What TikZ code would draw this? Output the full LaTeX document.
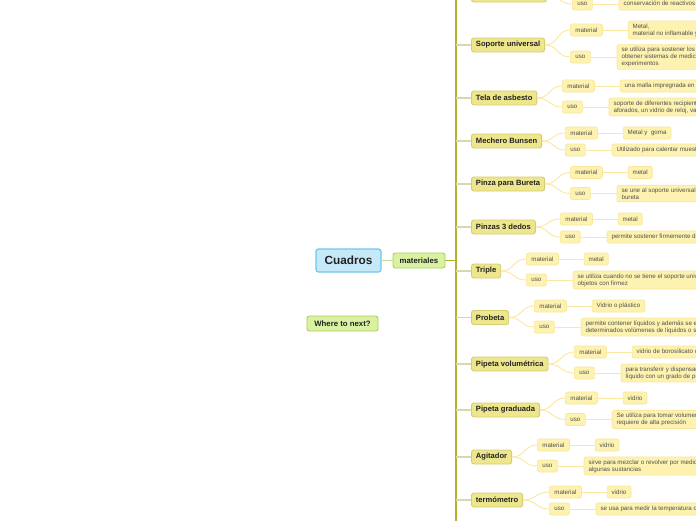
\documentclass[tikz,border=0pt]{standalone}
\usepackage{fontspec}
\setmainfont{Liberation Sans}
\definecolor{barc}{HTML}{B4B42C}
\definecolor{trunkc}{HTML}{D9D8A8}
\definecolor{catfill}{HTML}{EDE68C}
\definecolor{catdraw}{HTML}{D5CD72}
\definecolor{subfill}{HTML}{FDF2AF}
\definecolor{subdraw}{HTML}{FAE79C}
\definecolor{sublinec}{HTML}{FBE7A0}
\definecolor{rootfill}{HTML}{C6E9FA}
\definecolor{rootdraw}{HTML}{72C5EB}
\definecolor{grfill}{HTML}{DAF1A2}
\definecolor{grdraw}{HTML}{AACF5A}
\definecolor{grline}{HTML}{C3E090}
\definecolor{txtc}{HTML}{222222}
\definecolor{subtxt}{HTML}{505050}
\tikzset{
  cat/.style={draw=catdraw, fill=catfill, line width=0.9pt, rounded corners=2.5pt,
    font=\fontsize{7.6}{9}\selectfont\bfseries, text=txtc, inner xsep=4.5pt, inner ysep=0pt,
    minimum height=14pt},
  sub/.style={draw=subdraw, fill=subfill, line width=0.7pt, rounded corners=2pt,
    font=\fontsize{6.2}{6.9}\selectfont, text=subtxt, inner xsep=5pt, inner ysep=0pt,
    minimum height=12pt},
  leaf/.style={sub, align=left, inner xsep=4.5pt, inner ysep=2.6pt},
  trunkline/.style={draw=trunkc, line width=1.4pt},
  subline/.style={draw=sublinec, line width=0.9pt},
}
\newcommand\catbranch[8]{%
  \node[cat, anchor=west] (#1) at (471,#2) {#3};
  \node[sub, anchor=west] (#1m) at (#4,#5) {material};
  \node[sub, anchor=west] (#1u) at (#4,#7) {uso};
  \node[leaf, anchor=west] (#1ml) at ([xshift=25]#1m.east) {#6};
  \node[leaf, anchor=west] (#1ul) at ([xshift=26]#1u.east) {#8};
  \draw[trunkline] (bartop |- #1.west) -- (#1.west);
  \draw[subline] (#1.east) .. controls +(13,0) and +(-13,0) .. (#1m.west);
  \draw[subline] (#1.east) .. controls +(13,0) and +(-13,0) .. (#1u.west);
  \draw[subline] (#1m.east) -- (#1ml.west);
  \draw[subline] (#1u.east) -- (#1ul.west);
}
\begin{document}
\begin{tikzpicture}[x=1pt, y=-1pt]
\useasboundingbox (0,0) rectangle (696,520);
\clip (0,0) rectangle (696,520);
\fill[white] (0,0) rectangle (696,520);
\coordinate (bartop) at (456,-20);
\coordinate (barbot) at (456,540);

% root and main branch
\node[draw=rootdraw, fill=rootfill, line width=1.2pt, rounded corners=2.5pt,
  font=\fontsize{11.8}{13}\selectfont\bfseries, text=txtc, minimum width=65pt,
  minimum height=23pt, inner sep=0pt] (root) at (348.5,260.5) {Cuadros};
\node[draw=grdraw, fill=grfill, line width=0.9pt, rounded corners=2.5pt,
  font=\fontsize{7.8}{9}\selectfont\bfseries, text=txtc, minimum width=52pt,
  minimum height=15pt, inner sep=0pt] (mat) at (419,260.5) {materiales};
\node[draw=grdraw, fill=grfill, line width=0.9pt, rounded corners=2.5pt,
  font=\fontsize{7.8}{9}\selectfont\bfseries, text=txtc, minimum width=71pt,
  minimum height=15pt, inner sep=0pt] (next) at (342.5,323.5) {Where to next?};
\draw[draw=grline, line width=1pt] (root.east) -- (mat.west);
\draw[draw=barc, line width=1.6pt] (mat.east) -- (bartop |- mat.east);
\draw[draw=barc, line width=2pt] (bartop) -- (barbot);

% top (cut) category
\node[cat, anchor=west, minimum width=75pt] (top) at (471,-5) {};
\node[sub, anchor=west] (topu) at (572,4) {uso};
\node[leaf, anchor=west] (topul) at ([xshift=26]topu.east) {conservación de reactivos químicos};
\draw[trunkline] (bartop |- top.west) -- (top.west);
\draw[subline] (top.east) .. controls +(13,0) and +(-13,0) .. (topu.west);
\draw[subline] (topu.east) -- (topul.west);

\catbranch{sop}{45}{Soporte universal}{570}{30}{Metal,\\material no inflamable y resistente}{57}{se utiliza para sostener los materiales de laboratorio y\\obtener sistemas de medición o para diversos\\experimentos}
\catbranch{tela}{98}{Tela de asbesto}{562}{86}{una malla impregnada en asbesto}{107}{soporte de diferentes recipientes de vidrio como matraces\\aforados, un vidrio de reloj, vasos de precipitado}
\catbranch{mech}{141}{Mechero Bunsen}{565}{133}{Metal y \ goma}{150}{Utilizado para calentar muestras y sustancias}
\catbranch{bur}{184}{Pinza para Bureta}{570}{172.5}{metal}{193.5}{se une al soporte universal y sostiene la\\bureta}
\catbranch{ptd}{227}{Pinzas 3 dedos}{560}{219}{metal}{237}{permite sostener firmemente diferentes recipientes}
\catbranch{tri}{271}{Triple}{526}{259}{metal}{280}{se utiliza cuando no se tiene el soporte universal para sostener\\objetos con firmez}
\catbranch{prob}{317.5}{Probeta}{534}{306}{Vidrio o plástico}{327}{permite contener líquidos y además se emplea para medir\\determinados volúmenes de líquidos o sustancias}
\catbranch{pvol}{364}{Pipeta volumétrica}{574}{352}{vidrio de borosilicato o plástico}{373}{para transferir y dispensar un volumen de\\líquido con un grado de precisión}
\catbranch{pgra}{410}{Pipeta graduada}{565}{398}{vidrio}{419.5}{Se utiliza para tomar volumenes cuando no se\\requiere de alta precisión}
\catbranch{agi}{457}{Agitador}{537}{445}{vidrio}{466}{sirve para mezclar o revolver por medio de\\algunas sustancias}
\catbranch{ter}{500}{termómetro}{549}{492}{vidrio}{509}{se usa para medir la temperatura de sustancias}
\end{tikzpicture}
\end{document}
